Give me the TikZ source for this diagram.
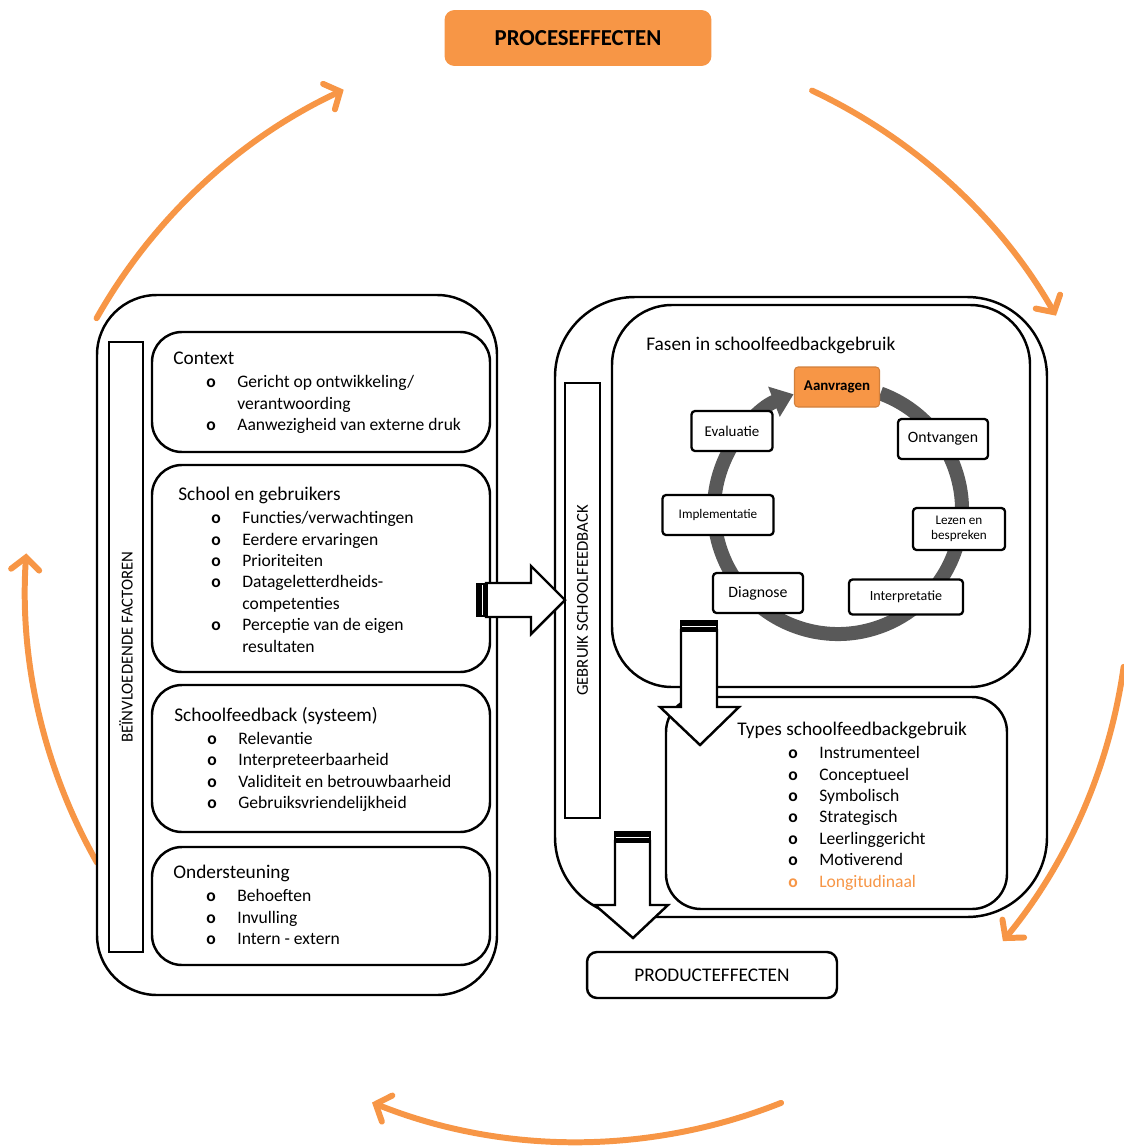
\documentclass[tikz,border=0pt]{standalone}
\usepackage{fontspec}
\setmainfont{Carlito}
\usepackage{tikz}
\usetikzlibrary{arrows.meta, positioning, fit}

\definecolor{procorange}{HTML}{F79646}
\definecolor{ringgray}{HTML}{595959}

% list with a hollow "o" as bullet
\newcommand{\bulletlist}[2][0.66cm]{%
  {\fontsize{10}{12.2}\selectfont
   \begin{tabular}[t]{@{\hspace{#1}}p{0.62cm}@{}l@{}}#2\end{tabular}}}
\newcommand{\bo}{\textbf{o}}

\begin{document}
\begin{tikzpicture}[
  x=0.02cm, y=-0.02cm,
  box/.style={draw, line width=1.4pt, fill=white, inner sep=0pt},
  flow/.style={draw=procorange, line width=3.4pt, line cap=round,
               -{Straight Barb[length=7pt, width=16pt, line cap=round]}},
  ring/.style={draw=ringgray, line width=0.28cm,
               -{Triangle[length=0.42cm, width=0.62cm]}},
  phase/.style={draw, line width=1.3pt, rounded corners=2pt, fill=white,
                minimum height=0.8cm, align=center, inner sep=1pt,
                font=\fontsize{9}{10}\selectfont},
  txt/.style={anchor=north west, align=left, inner sep=0pt,
              font=\fontsize{11}{13}\selectfont},
  sidelabel/.style={rotate=90, font=\fontsize{9.5}{11}\selectfont},
  blockarrow/.style={draw, fill=white, line width=1.4pt, line join=miter},
]
\useasboundingbox (0,0) rectangle (1124,1146);

% outer cycle of effects
\coordinate (hub) at (577,590);
\draw[flow] (hub) ++(-150.5:552) arc[start angle=-150.5, end angle=-115, radius=552];
\draw[flow] (hub) ++(-64.8:552) arc[start angle=-64.8, end angle=-29.8, radius=552];
\draw[flow] (hub) ++(8:552) arc[start angle=8, end angle=39.5, radius=552];
\draw[flow] (hub) ++(68.3:552) arc[start angle=68.3, end angle=111.8, radius=552];
\draw[flow] (hub) ++(-209.6:552) arc[start angle=-209.6, end angle=-176.2, radius=552];

\node[fill=procorange, rounded corners=0.2cm, minimum width=5.34cm,
      minimum height=1.12cm, font=\fontsize{13}{15}\selectfont\bfseries]
  (proc) at (578,38) {PROCESEFFECTEN};
\node[draw, line width=1.4pt, rounded corners=0.2cm, minimum width=5cm,
      minimum height=0.92cm, font=\fontsize{11}{13}\selectfont]
  (prod) at (712,975) {PRODUCTEFFECTEN};

% influencing factors
\node[box, rounded corners=1.2cm, fit={(97,295) (497,995)}] (infl) {};
\node[box, fit={(109,342) (143,952)}] (infbar) {};
\node[sidelabel] at (infbar.center) {BEÏNVLOEDENDE FACTOREN};
\node[box, rounded corners=0.6cm, fit={(152,332) (490,452)}] (ctx) {};
\node[box, rounded corners=0.6cm, fit={(152,465) (490,672)}] (users) {};
\node[box, rounded corners=0.6cm, fit={(152,685) (490,832)}] (system) {};
\node[box, rounded corners=0.6cm, fit={(152,847) (490,965)}] (support) {};

% use of school feedback
\node[box, rounded corners=1.6cm, fit={(555,297) (1047,917)}] (use) {};
\node[box, rounded corners=1.2cm, fit={(612,305) (1030,687)}] (phases) {};
\node[box, rounded corners=0.7cm, fit={(666,697) (1007,909)}] (types) {};
\node[box, fit={(565,383) (600,818)}] (usebar) {};
\node[sidelabel] at (usebar.center) {GEBRUIK SCHOOLFEEDBACK};

% cycle of phases
\coordinate (cyc) at (838,510);
\draw[ring] (cyc) ++(-70:124) arc[start angle=-70, end angle=249, radius=124];
\node[phase, fill=procorange, draw=procorange!85!black, line width=0.6pt,
      minimum width=1.7cm, font=\fontsize{8.5}{10}\selectfont\bfseries]
  (aanvragen) at (837,387) {Aanvragen};
\node[phase, minimum width=1.8cm] (ontvangen) at (943,439) {Ontvangen};
\node[phase, minimum width=1.84cm, minimum height=0.84cm,
      font=\fontsize{7.5}{8.5}\selectfont] (lezen) at (959,529) {Lezen en\\bespreken};
\node[phase, minimum width=2.28cm, minimum height=0.7cm,
      font=\fontsize{8}{10}\selectfont] (interpretatie) at (906,597) {Interpretatie};
\node[phase, minimum width=1.8cm] (diagnose) at (758,593) {Diagnose};
\node[phase, minimum width=2.22cm, font=\fontsize{7.5}{9}\selectfont]
  (implementatie) at (718,515) {Implementatie};
\node[phase, minimum width=1.62cm, font=\fontsize{8.5}{10}\selectfont]
  (evaluatie) at (732,431) {Evaluatie};

% block arrows
\draw[blockarrow] (486,583) -- (531,583) -- (531,566) -- (565,600)
  -- (531,634) -- (531,617) -- (486,617) -- cycle;
\fill (476,583) rectangle (488,617);
\draw[white, line width=0.5pt] (482,585) -- (482,615);
\draw[blockarrow] (681,630) -- (681,707) -- (660,707) -- (700,745)
  -- (739,707) -- (717,707) -- (717,630) -- cycle;
\fill (680,620) rectangle (718,632);
\draw[white, line width=0.5pt] (682,626) -- (716,626);
\draw[blockarrow] (615,841) -- (615,905) -- (595,905) -- (633,938)
  -- (668,905) -- (650,905) -- (650,841) -- cycle;
\fill (614,831) rectangle (651,843);
\draw[white, line width=0.5pt] (616,837) -- (649,837);

% texts
\node[txt] (ctxtxt) at (173,352) {Context\\
  \bulletlist{\bo & Gericht op ontwikkeling/\\
              & verantwoording\\
              \bo & Aanwezigheid van externe druk}};
\node[txt] (userstxt) at (178,487) {School en gebruikers\\
  \bulletlist{\bo & Functies/verwachtingen\\
              \bo & Eerdere ervaringen\\
              \bo & Prioriteiten\\
              \bo & Datageletterdheids-\\
              & competenties\\
              \bo & Perceptie van de eigen\\
              & resultaten}};
\node[txt] (systemtxt) at (174,707) {Schoolfeedback (systeem)\\
  \bulletlist{\bo & Relevantie\\
              \bo & Interpreteerbaarheid\\
              \bo & Validiteit en betrouwbaarheid\\
              \bo & Gebruiksvriendelijkheid}};
\node[txt] (supporttxt) at (173,865) {Ondersteuning\\
  \bulletlist{\bo & Behoeften\\
              \bo & Invulling\\
              \bo & Intern - extern}};
\node[txt] (phasestxt) at (646,337) {Fasen in schoolfeedbackgebruik};
\node[txt] (typestxt) at (737,722) {Types schoolfeedbackgebruik\\
  \bulletlist[1.02cm]{\bo & Instrumenteel\\
              \bo & Conceptueel\\
              \bo & Symbolisch\\
              \bo & Strategisch\\
              \bo & Leerlinggericht\\
              \bo & Motiverend\\
              \textcolor{procorange}{\bo} & \textcolor{procorange}{Longitudinaal}}};
\end{tikzpicture}
\end{document}
